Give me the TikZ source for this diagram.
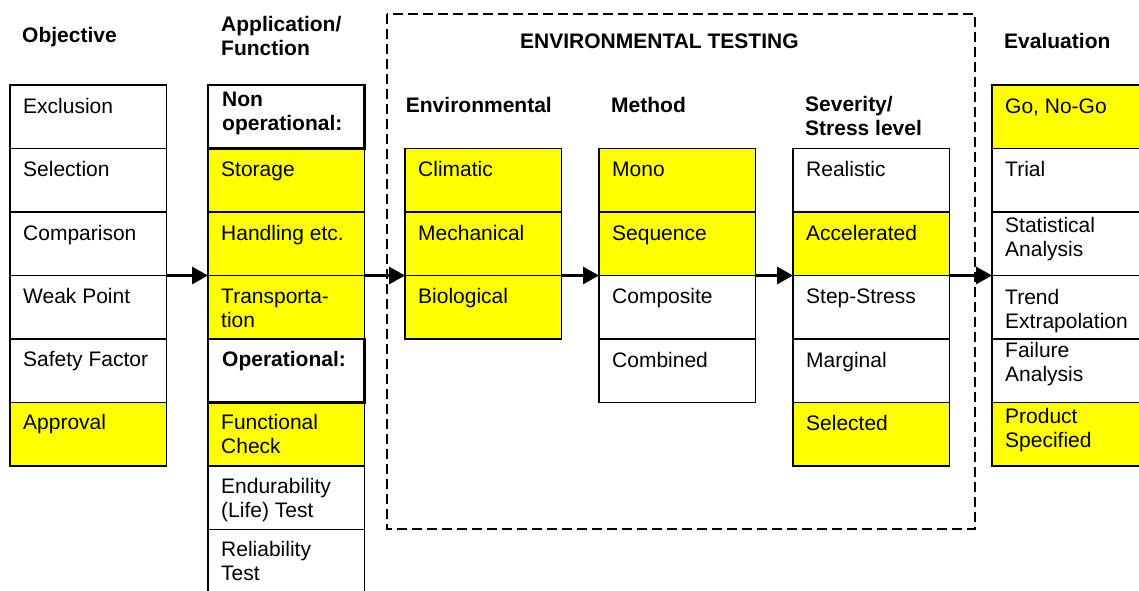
\documentclass[tikz,border=0pt]{standalone}
\usepackage{fontspec}
\setmainfont{Liberation Sans}
\usetikzlibrary{arrows.meta}
\definecolor{hl}{HTML}{FFFF00}
\newcommand\twol[2]{\vtop{\hbox{\strut #1}\hbox{\strut #2}}}
\tikzset{
  cell/.style={draw=black, fill=white, line width=1.4pt, minimum width=156.5pt, minimum height=63.5pt,
    anchor=north west, inner sep=0pt, outer sep=0pt},
  ycell/.style={cell, fill=hl},
  hcell/.style={cell, line width=2.6pt},
  txt/.style={anchor=base west, inner sep=0pt, font=\fontsize{21}{24}\selectfont},
  hdr/.style={anchor=base west, inner sep=0pt, font=\fontsize{21}{24}\selectfont\bfseries},
  flow/.style={line width=3.2pt, -{Triangle[length=16pt,width=17pt]}},
  frame/.style={draw=black, line width=2.6pt, dash pattern=on 10pt off 5pt}
}
\newcommand\mkcell[6]{%
  \node[#4] (#1) at (#2,#3) {};
  \node[txt] at ([xshift=13pt,yshift=-#6pt]#1.north west) {#5};
}
\begin{document}
\begin{tikzpicture}[x=1pt,y=-1pt]
\useasboundingbox (0,0) rectangle (1139,590);
\clip (0,0) rectangle (1139,590);
\fill[white] (0,0) rectangle (1139,590);

% dashed frame
\draw[frame] (387,14) rectangle (975,529);

% headers
\node[hdr] (hobj) at (22,42) {Objective};
\node[hdr] (happ) at (221,31.7) {\twol{Application/}{Function}};
\node[hdr] (henvt) at (520,48) {ENVIRONMENTAL TESTING};
\node[hdr] (henv) at (405.7,112.7) {Environmental};
\node[hdr] (hmeth) at (611,112.7) {Method};
\node[hdr] (hsev) at (805,111.7) {\twol{Severity/}{Stress level}};
\node[hdr] (heval) at (1004,48.3) {Evaluation};

% Objective column
\mkcell{obj1}{10}{85}{cell}{Exclusion}{28}
\mkcell{obj2}{10}{148.5}{cell}{Selection}{28.3}
\mkcell{obj3}{10}{212}{cell}{Comparison}{28}
\mkcell{obj4}{10}{275.5}{cell}{Weak Point}{28}
\mkcell{obj5}{10}{339}{cell}{Safety Factor}{27.7}
\mkcell{obj6}{10}{402.5}{ycell}{Approval}{27}

% Application column
\mkcell{app2}{208}{148.5}{ycell}{Storage}{28}
\mkcell{app3}{208}{212}{ycell}{Handling etc.}{28}
\mkcell{app4}{208}{275.5}{ycell}{\twol{Transporta-}{tion}}{28}
\mkcell{app6}{208}{402.5}{ycell}{\twol{Functional}{Check}}{27}
\mkcell{app7}{208}{466}{cell}{\twol{Endurability}{(Life) Test}}{27}
\mkcell{app8}{208}{529.5}{cell}{\twol{Reliability}{Test}}{27}
\node[hcell] (app1) at (208,85) {};
\node[hdr] at ([xshift=14pt,yshift=-21pt]app1.north west) {\twol{Non}{operational:}};
\node[hcell] (app5) at (208,339) {};
\node[hdr] at ([xshift=14pt,yshift=-27.7pt]app5.north west) {Operational:};

% Environmental column
\mkcell{env1}{405}{148.5}{ycell}{Climatic}{28}
\mkcell{env2}{405}{212}{ycell}{Mechanical}{28}
\mkcell{env3}{405}{275.5}{ycell}{Biological}{28}

% Method column
\mkcell{meth1}{599}{148.5}{ycell}{Mono}{28}
\mkcell{meth2}{599}{212}{ycell}{Sequence}{28}
\mkcell{meth3}{599}{275.5}{cell}{Composite}{28}
\mkcell{meth4}{599}{339}{cell}{Combined}{28}

% Severity column
\mkcell{sev1}{793}{148.5}{cell}{Realistic}{28}
\mkcell{sev2}{793}{212}{ycell}{Accelerated}{28}
\mkcell{sev3}{793}{275.5}{cell}{Step-Stress}{28}
\mkcell{sev4}{793}{339}{cell}{Marginal}{28}
\mkcell{sev5}{793}{402.5}{ycell}{Selected}{27.5}

% Evaluation column
\mkcell{eval1}{992}{85}{ycell}{Go, No-Go}{28}
\mkcell{eval2}{992}{148.5}{cell}{Trial}{28.3}
\mkcell{eval3}{992}{212}{cell}{\twol{Statistical}{Analysis}}{20}
\mkcell{eval4}{992}{275.5}{cell}{\twol{Trend}{Extrapolation}}{28.5}
\mkcell{eval5}{992}{339}{cell}{\twol{Failure}{Analysis}}{18}
\mkcell{eval6}{992}{402.5}{ycell}{\twol{Product}{Specified}}{20.5}

% arrows
\draw[flow] (obj4.north east) -- (app4.north west);
\draw[flow] (app4.north east) -- (env3.north west);
\draw[flow] (env3.north east) -- (meth3.north west);
\draw[flow] (meth3.north east) -- (sev3.north west);
\draw[flow] (sev3.north east) -- (eval4.north west);
\end{tikzpicture}
\end{document}
